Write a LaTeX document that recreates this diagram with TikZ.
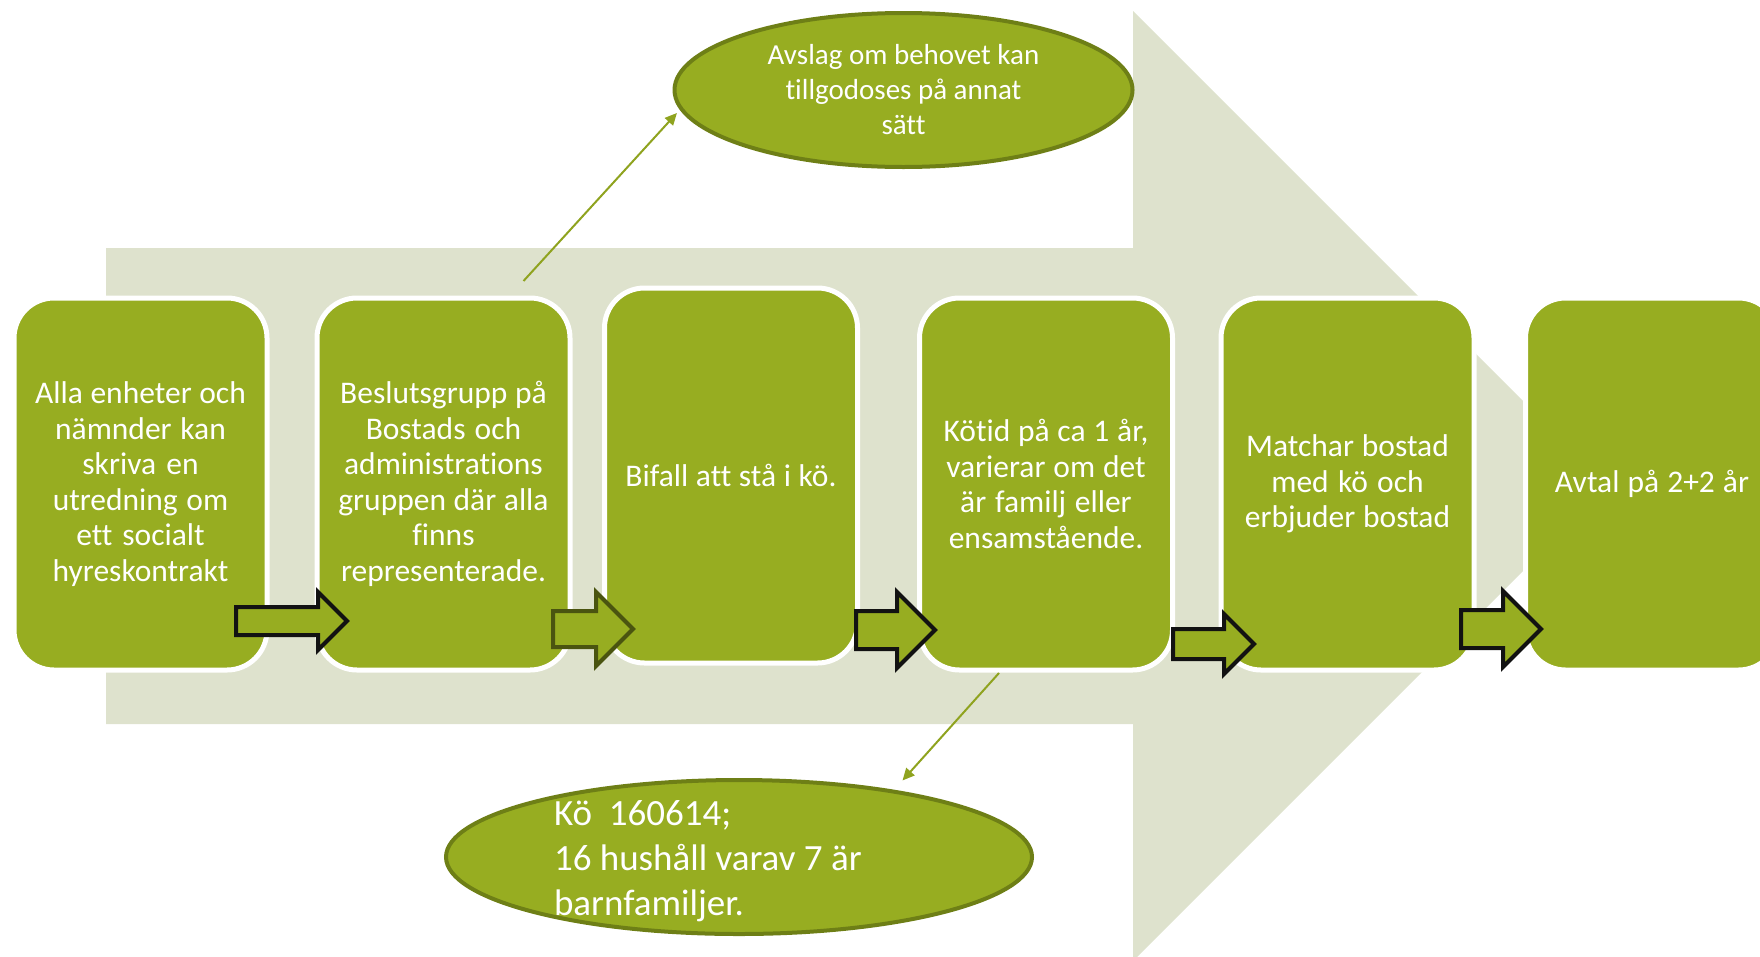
\documentclass[tikz,border=0pt]{standalone}
\usepackage{fontspec}
\setmainfont{Carlito}[Ligatures=NoCommon]
\usepackage{tikz}
\usetikzlibrary{arrows.meta,shapes.geometric,shapes.arrows,positioning}
\definecolor{leaf}{RGB}{151,173,33}
\definecolor{mist}{RGB}{222,226,205}
\definecolor{moss}{RGB}{110,127,22}
\definecolor{twig}{RGB}{143,163,31}
\definecolor{bark}{RGB}{74,84,16}
\newcommand{\natspace}{\spaceskip 0pt\relax}
\tikzstyle{stepbox}=[rectangle,rounded corners=40pt,draw=white,line width=5pt,fill=leaf,text=white,minimum width=253pt,minimum height=372pt,text width=228pt,align=center,inner sep=0pt,outer sep=0pt,font=\fontsize{31.5}{35.5}\selectfont,execute at begin node=\natspace]
\tikzstyle{note}=[ellipse,draw=moss,line width=4pt,fill=leaf,text=white,inner sep=0pt,outer sep=0pt,align=center]
\tikzstyle{flow}=[single arrow,draw=black!93,line width=4pt,fill=leaf,inner xsep=0pt,outer sep=0pt,anchor=tail]
\tikzstyle{link}=[-{Triangle[length=12pt,width=11pt]},draw=twig,fill=twig,line width=2pt]

\begin{document}
\begin{tikzpicture}[x=1pt,y=-1pt]
\useasboundingbox (0,0) rectangle (1760,956);
\clip (0,0) rectangle (1760,956);

% big arrow behind
\fill[mist] (106,248) -- (1133,248) -- (1133,11) -- (1608,486) -- (1133,961) -- (1133,724) -- (106,724) -- cycle;

% steps
\node[stepbox] (b1) at (140.5,484) {Alla enheter och\\nämnder kan\\skriva en\\utredning om\\ett socialt\\hyreskontrakt};
\node[stepbox] (b2) at (443.5,484) {Beslutsgrupp på\\Bostads och\\administrations\\gruppen där alla\\finns\\representerade.};
\node[stepbox,minimum height=375pt] (b3) at (731,475.5) {Bifall att stå i kö.};
\node[stepbox] (b4) at (1046,484) {Kötid på ca 1 år,\\varierar om det\\är familj eller\\ensamstående.};
\node[stepbox] (b5) at (1347.5,484) {Matchar bostad\\med kö och\\erbjuder bostad};
\node[stepbox] (b6) at (1652,484) {Avtal på 2+2 år};

% block arrows
\node[flow,inner ysep=12pt,single arrow head extend=15pt,minimum height=111pt] (f1) at (236,621) {};
\node[flow,draw=bark,inner ysep=16pt,single arrow head extend=19pt,minimum height=80pt] (f2) at (553,629) {};
\node[flow,inner ysep=17pt,single arrow head extend=19pt,minimum height=79pt] (f3) at (856,630) {};
\node[flow,inner ysep=13pt,single arrow head extend=15pt,minimum height=81pt] (f4) at (1173,644) {};
\node[flow,inner ysep=17pt,single arrow head extend=19pt,minimum height=80pt] (f5) at (1461,629) {};

% notes
\node[note,minimum width=458pt,minimum height=154pt,font=\fontsize{29}{35}\selectfont] (avslag) at (903.5,90) {Avslag om behovet kan\\tillgodoses på annat\\sätt};
\node[note,minimum width=586pt,minimum height=154pt,
  label={[text=white,text width=370pt,align=left,yshift=-4pt,font=\fontsize{37}{45}\selectfont,execute at begin node=\natspace]center:{Kö\ \ 160614;\\16 hushåll varav 7 är\\barnfamiljer.}}] (koe) at (739,857) {};

\draw[link] ([xshift=80pt,yshift=17pt]b2.north) -- ([xshift=-8pt]avslag.186);
\draw[link] ([xshift=-47pt,yshift=-3pt]b4.south) -- ([xshift=-2pt,yshift=13pt]koe.21);

\end{tikzpicture}
\end{document}
